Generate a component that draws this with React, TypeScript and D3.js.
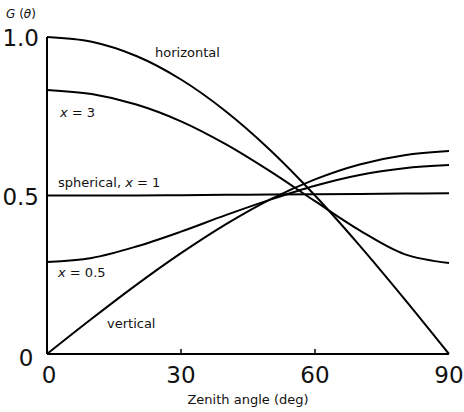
import React from 'react';
import * as d3 from 'd3';

// zenith angle (deg) and G(theta)
const angles = [0, 10, 20, 30, 40, 50, 60, 70, 80, 90];
const horizontal = [1.0, 0.985, 0.94, 0.866, 0.766, 0.643, 0.5, 0.342, 0.174, 0.0];
const xThree = [0.833, 0.82, 0.787, 0.734, 0.662, 0.576, 0.482, 0.39, 0.315, 0.287];
const spherical = [0.5, 0.5, 0.5, 0.501, 0.502, 0.503, 0.504, 0.505, 0.506, 0.507];
const xHalf = [0.29, 0.303, 0.339, 0.386, 0.438, 0.487, 0.531, 0.565, 0.586, 0.596];
const vertical = [0.0, 0.111, 0.218, 0.318, 0.409, 0.488, 0.551, 0.598, 0.627, 0.64];

const xTicks = [0, 30, 60, 90];
const yTicks = [0, 0.5, 1.0];

const series = [horizontal, xThree, spherical, xHalf, vertical];

const width = 464;
const height = 412;

const App = () => {
  const x = d3.scaleLinear().domain([0, 90]).range([47, 449]);
  const y = d3.scaleLinear().domain([0, 1]).range([354, 37]);

  const line = d3.line<number>()
    .x((d, i) => x(angles[i]))
    .y(d => y(d))
    .curve(d3.curveCatmullRom.alpha(0.5));

  const lab = { fontFamily: 'DejaVu Sans', fontSize: 13, fill: '#111' };
  const big = { fontFamily: 'DejaVu Sans', fontSize: 23, fill: '#111' };

  return (
    <svg width={width} height={height} style={{ position: 'absolute', left: 0, top: 0, background: '#fff' }}>
      {/* axes */}
      <line x1={x(0)} x2={x(0)} y1={y(1)} y2={y(0)} stroke="#000" strokeWidth={2} />
      <line x1={x(0)} x2={x(90)} y1={y(0)} y2={y(0)} stroke="#000" strokeWidth={2} />
      {xTicks.slice(1, 3).map(t => (
        <line key={t} x1={x(t)} x2={x(t)} y1={y(0)} y2={y(0) - 5} stroke="#000" strokeWidth={1.5} />
      ))}

      {xTicks.map(t => (
        <text key={t} x={x(t) + (t === 0 ? 2 : 0)} y={383} textAnchor="middle" style={big}>{t}</text>
      ))}
      {yTicks.map(t => (
        <text key={t} x={t === 0 ? 26 : 39} y={y(t) + (t === 0 ? 12 : 9)} textAnchor={t === 0 ? 'middle' : 'end'} style={big}>
          {t === 0 ? '0' : t.toFixed(1)}
        </text>
      ))}

      {series.map((s, i) => (
        <path key={i} d={line(s) || ''} fill="none" stroke="#000" strokeWidth={2} />
      ))}

      {/* labels */}
      <text x={6} y={18} style={{ ...lab, fontSize: 12 }}>
        <tspan fontStyle="italic">G</tspan> (<tspan fontStyle="italic">θ</tspan>)
      </text>
      <text x={155} y={57} style={lab}>horizontal</text>
      <text x={60} y={117} style={lab}><tspan fontStyle="italic">x</tspan> = 3</text>
      <text x={58} y={187} style={lab}>spherical, <tspan fontStyle="italic">x</tspan> = 1</text>
      <text x={58} y={277} style={lab}><tspan fontStyle="italic">x</tspan> = 0.5</text>
      <text x={107} y={328} style={lab}>vertical</text>
      <text x={248} y={404} textAnchor="middle" style={lab}>Zenith angle (deg)</text>
    </svg>
  );
};

export default App;
